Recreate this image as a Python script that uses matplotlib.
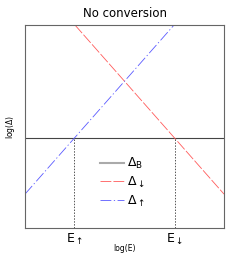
import matplotlib
matplotlib.use("Agg")
import matplotlib.pyplot as plt

# data (log scale units, axes normalised 0..1)
x_B = [0.0, 1.0]
delta_B = [0.443, 0.443]
x_down = [0.251, 1.0]
delta_down = [1.0, 0.167]
x_up = [0.0, 0.749]
delta_up = [0.167, 1.0]
E_up = 0.248
E_down = 0.752
tick_labels = [r"E$_{\uparrow}$", r"E$_{\downarrow}$"]
legend_labels = [r"$\Delta_\mathrm{B}$", r"$\Delta_{\downarrow}$", r"$\Delta_{\uparrow}$"]

fig = plt.figure(figsize=(2.49, 2.54), dpi=100)
ax = fig.add_axes([25/249, 1-228/254, 199/249, 203/254])

red_c = "#ff5a5a"
blue_c = "#5a5aff"

lB, = ax.plot(x_B, delta_B, color="#444444", lw=0.8)
lD, = ax.plot(x_down, delta_down, color=red_c, lw=0.6, ls=(0, (13, 2.5)))
lU, = ax.plot(x_up, delta_up, color=blue_c, lw=0.6, ls=(0, (13, 3, 1.5, 3)))
for e in (E_up, E_down):
    ax.plot([e, e], [0, delta_B[0]], color="#555555", lw=0.7, ls=(0, (1.5, 1.5)))

hB, = ax.plot([], [], color="#aaaaaa", lw=1.5)
ax.legend([hB, lD, lU], legend_labels, loc="center", bbox_to_anchor=(0.49, 0.225),
          frameon=False, fontsize=9, handlelength=1.9, handletextpad=0.3,
          labelspacing=0.3)

ax.set_xlim(0, 1)
ax.set_ylim(0, 1)
ax.set_xticks([E_up, E_down])
ax.set_xticklabels(tick_labels, fontsize=9)
ax.set_yticks([])
ax.tick_params(axis="x", length=0, pad=3)
for s in ax.spines.values():
    s.set_color("#666666")
    s.set_linewidth(0.8)

ax.set_title("No conversion", fontsize=8.5, pad=6)
ax.set_xlabel("log(E)", fontsize=5.5, labelpad=-2)
ax.set_ylabel(r"log($\Delta$)", fontsize=5.5, labelpad=6)

fig.savefig("out.png", dpi=100)
